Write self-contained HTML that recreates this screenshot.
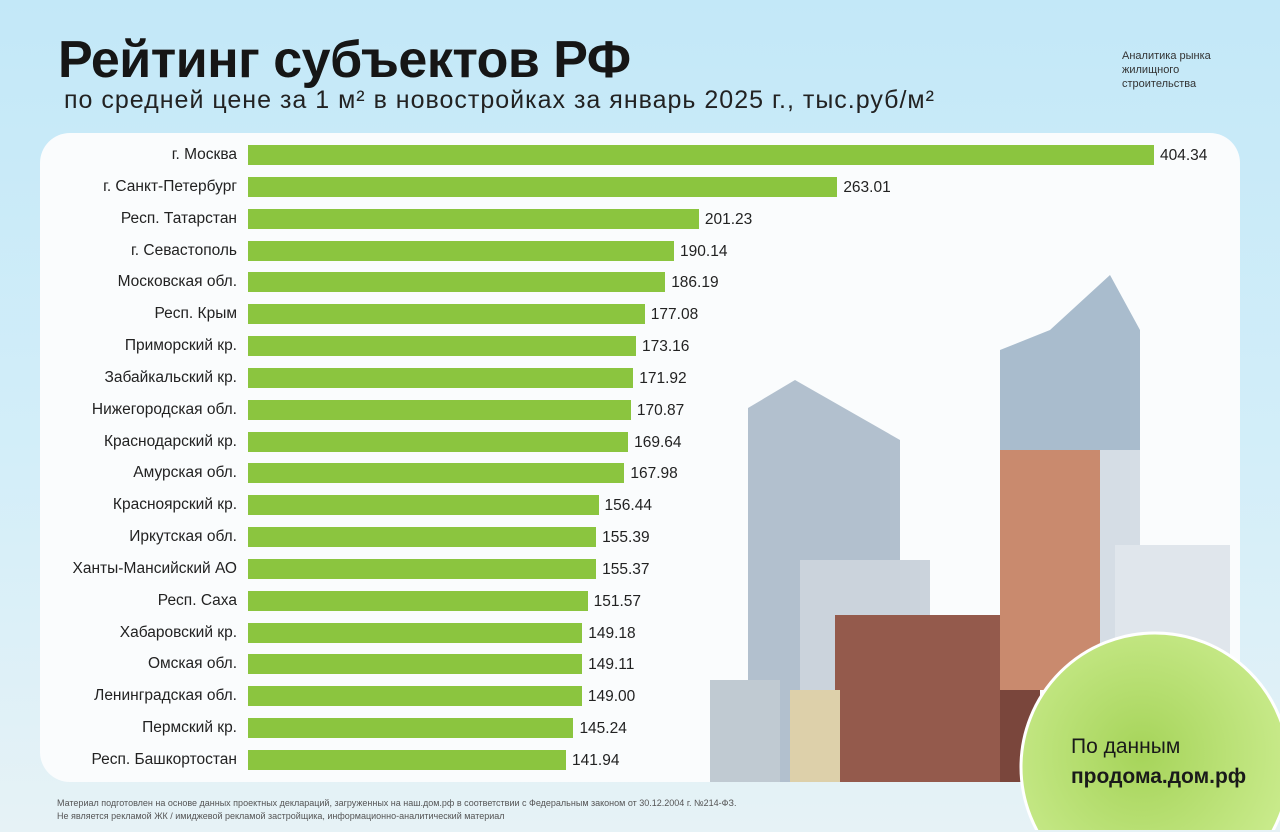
<!DOCTYPE html>
<html style="width:1280px;height:832px;overflow:hidden"><head><meta charset="utf-8"><style>
*{margin:0;padding:0;box-sizing:border-box}
body{width:1280px;height:832px;overflow:hidden;position:relative;font-family:"Liberation Sans","DejaVu Sans",sans-serif;background:linear-gradient(180deg,#c3e8f8 0%,#d3eef9 55%,#e6f2f6 100%);color:#1a1a1a}
.a{position:absolute}
h1{position:absolute;left:58px;top:30px;font-size:52px;line-height:60px;font-weight:bold;letter-spacing:-0.5px;color:#161616}
.sub{left:64px;top:86px;font-size:25px;line-height:29px;letter-spacing:1px;color:#222}
.note{left:1122px;top:49px;font-size:11px;line-height:14px;color:#333}
.panel{left:40px;top:133px;width:1200px;height:649px;background:#fafcfd;border-radius:30px}
.lab{position:absolute;right:1043px;font-size:15.5px;line-height:18px;color:#222;white-space:nowrap}
.bar{position:absolute;left:248px;height:20px;background:#8bc53f}
.val{position:absolute;font-size:15.5px;line-height:18px;color:#222}
.foot{left:57px;top:797px;font-size:9px;line-height:13px;color:#555}
</style></head><body>
<h1>Рейтинг субъектов РФ</h1>
<div class="a sub">по средней цене за 1 м² в новостройках за январь 2025 г., тыс.руб/м²</div>
<div class="a note">Аналитика рынка<br>жилищного<br>строительства</div>
<div class="a panel"></div>
<svg class="a" style="left:700px;top:270px;display:block" width="540" height="512">
<polygon points="350,60 410,5 440,60 440,420 300,420 300,80" fill="#a9bccd"/>
<rect x="300" y="180" width="100" height="240" fill="#c98a6e"/>
<rect x="400" y="180" width="40" height="240" fill="#d5dde5"/>
<polygon points="48,138 95,110 200,170 200,512 48,512" fill="#b2c0ce"/>
<rect x="100" y="290" width="130" height="222" fill="#cbd3dc"/>
<rect x="135" y="345" width="165" height="167" fill="#945a4c"/>
<rect x="90" y="420" width="50" height="92" fill="#ddd0aa"/>
<rect x="10" y="410" width="70" height="102" fill="#c0cad2"/>
<rect x="415" y="275" width="115" height="160" fill="#e0e6ec"/>
<rect x="300" y="420" width="40" height="92" fill="#7a463c"/>
</svg>
<svg class="a" style="left:1015px;top:625px;display:block" width="265" height="205">
<defs><radialGradient id="g" cx="45%" cy="45%" r="55%"><stop offset="0" stop-color="#a6d45a"/><stop offset="1" stop-color="#c8ea8a"/></radialGradient></defs>
<circle cx="140" cy="142" r="134" fill="url(#g)" stroke="#fff" stroke-width="3"/>
</svg>
<div class="a" style="left:1071px;top:735px;font-size:21px;line-height:24px;color:#1a1a1a">По данным</div>
<div class="a" style="left:1071px;top:765px;font-size:21px;line-height:24px;font-weight:bold;color:#1a1a1a">продома.дом.рф</div>
<div id="c"></div>
<div class="a foot">Материал подготовлен на основе данных проектных деклараций, загруженных на наш.дом.рф в соответствии с Федеральным законом от 30.12.2004 г. №214-ФЗ.<br>Не является рекламой ЖК / имиджевой рекламой застройщика, информационно-аналитический материал</div>
<script>
var d=[["г. Москва","404.34"],["г. Санкт-Петербург","263.01"],["Респ. Татарстан","201.23"],["г. Севастополь","190.14"],["Московская обл.","186.19"],["Респ. Крым","177.08"],["Приморский кр.","173.16"],["Забайкальский кр.","171.92"],["Нижегородская обл.","170.87"],["Краснодарский кр.","169.64"],["Амурская обл.","167.98"],["Красноярский кр.","156.44"],["Иркутская обл.","155.39"],["Ханты-Мансийский АО","155.37"],["Респ. Саха","151.57"],["Хабаровский кр.","149.18"],["Омская обл.","149.11"],["Ленинградская обл.","149.00"],["Пермский кр.","145.24"],["Респ. Башкортостан","141.94"]];
var h="";d.forEach(function(r,i){var y=155+i*31.84,w=parseFloat(r[1])*2.2407;
h+='<div class="lab" style="top:'+(y-9)+'px">'+r[0]+'</div><div class="bar" style="top:'+(y-10)+'px;width:'+w+'px"></div><div class="val" style="top:'+(y-8)+'px;left:'+(248+w+6)+'px">'+r[1]+'</div>';});
document.getElementById("c").innerHTML=h;
</script>
</body></html>
